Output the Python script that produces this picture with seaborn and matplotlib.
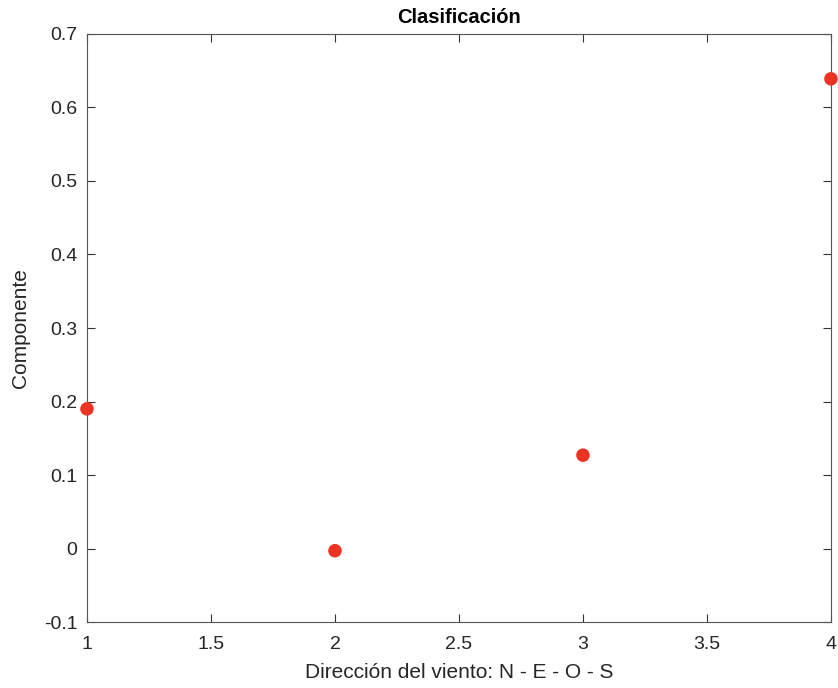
import matplotlib
matplotlib.use("Agg")
import matplotlib.pyplot as plt
import seaborn as sns
import pandas as pd

# Wind direction index (N, E, O, S) and its component value
direccion = [1, 2, 3, 4]
componente = [0.190, -0.003, 0.127, 0.639]

x_ticks = [1, 1.5, 2, 2.5, 3, 3.5, 4]
y_ticks = [-0.1, 0, 0.1, 0.2, 0.3, 0.4, 0.5, 0.6, 0.7]

sns.set_theme(style="white")
plt.rcParams["font.family"] = ["Liberation Sans", "DejaVu Sans"]

df = pd.DataFrame({"x": direccion, "y": componente})

fig = plt.figure(figsize=(8.38, 6.88), dpi=100)
ax = fig.add_axes([0.1038, 0.0959, 0.8878, 0.8547])

sns.scatterplot(data=df, x="x", y="y", ax=ax, s=95, color="#EE3325",
                edgecolor="none", clip_on=False, zorder=5)

ax.set_xlim(1, 4)
ax.set_ylim(-0.1, 0.7)
ax.set_xticks(x_ticks)
ax.set_xticklabels([f"{v:g}" for v in x_ticks])
ax.set_yticks(y_ticks)
ax.set_yticklabels([f"{v:g}" for v in y_ticks])

edge = "#262626"
for s in ax.spines.values():
    s.set_visible(True)
    s.set_color("#555555")
    s.set_linewidth(0.8)

ax.tick_params(direction="in", length=6, width=0.8, color="#333333",
               labelsize=14, labelcolor=edge, top=True, right=True,
               bottom=True, left=True)
ax.tick_params(axis="x", pad=10)
ax.tick_params(axis="y", pad=7)

ax.set_xlabel("Dirección del viento: N - E - O - S", fontsize=15, color=edge, labelpad=7)
ax.set_ylabel("Componente", fontsize=15, color=edge, labelpad=10)
ax.set_title("Clasificación", fontsize=14.5, fontweight="bold", color="black", pad=8)
ax.grid(False)

fig.savefig("out.png", dpi=100, facecolor="white")
